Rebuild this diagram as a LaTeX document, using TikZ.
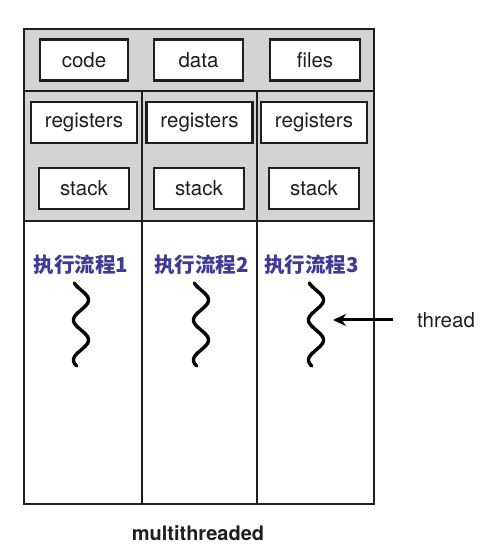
\documentclass[tikz,border=0pt]{standalone}
\usepackage{fontspec}
\setmainfont{TeX Gyre Heros}
\newfontfamily\cjk{Noto Sans CJK SC}
\usetikzlibrary{arrows.meta,positioning}

\definecolor{panelgray}{RGB}{211,211,211}
\definecolor{flowblue}{RGB}{62,58,150}
\definecolor{inkdark}{RGB}{30,30,30}

\begin{document}
\begin{tikzpicture}[
    x=1pt, y=1pt,
    partbox/.style={
        rectangle,
        draw=inkdark,
        line width=2.6pt,
        fill=white,
        minimum width=#1,
        minimum height=41pt,
        inner sep=0pt,
        font=\fontsize{20.5}{24}\selectfont,
        text=inkdark,
    },
    partbox/.default=90pt,
    flowlabel/.style={
        font=\cjk\bfseries\fontsize{20.5}{24}\selectfont,
        text=flowblue,
        inner sep=0pt,
    },
    frameline/.style={
        draw=inkdark,
        line width=2.3pt,
    },
    squiggle/.style={
        draw=black,
        line width=3.4pt,
        line cap=round,
    },
    pointer/.style={
        -{Stealth[length=13pt, width=12pt]},
        line width=3pt,
        draw=black,
    },
]
\useasboundingbox (0,0) rectangle (482,548);

% === Process frame ===
\fill[panelgray] (24,327) rectangle (374,519);
\draw[frameline] (24,44) rectangle (374,519);
\draw[frameline] (24,457) -- (374,457);
\draw[frameline] (24,327) -- (374,327);
\draw[frameline] (142,457) -- (142,44);
\draw[frameline] (257,457) -- (257,44);

% === Shared by all threads ===
\node[partbox=88pt] (code) at (84,488) {code};
\node[partbox=89pt] (data) at (198.5,488) {data};
\node[partbox=90pt] (files) at (315,488) {files};

% === Per-thread registers ===
\node[partbox=106pt] (regs1) at (84,425.5) {registers};
\node[partbox=106pt] (regs2) at (199.5,425.5) {registers};
\node[partbox=106pt] (regs3) at (314,425.5) {registers};

% === Per-thread stacks ===
\node[partbox] (stack1) at (84,359.5) {stack};
\node[partbox] (stack2) at (199,359.5) {stack};
\node[partbox] (stack3) at (314,359.5) {stack};

% === Execution flows ===
\node[flowlabel] (flow1) at (81,283) {执行流程1};
\node[flowlabel] (flow2) at (201.5,283) {执行流程2};
\node[flowlabel] (flow3) at (311.5,283) {执行流程3};

\draw[squiggle] plot[domain=283:366, samples=80, smooth]
    ({81 + 7.5*sin(9*(\x-290))}, {548-\x});
\draw[squiggle] plot[domain=283:366, samples=80, smooth]
    ({201 + 7.5*sin(9*(\x-290))}, {548-\x});
\draw[squiggle] plot[domain=283:366, samples=80, smooth]
    ({316 + 7.5*sin(9*(\x-290))}, {548-\x});

% === Thread pointer ===
\coordinate (tip3) at (333,228);
\node[font=\fontsize{20.5}{24}\selectfont, text=inkdark, inner sep=0pt] (thread) at (446,228) {thread};
\draw[pointer, shorten <=24pt] (thread.west) -- (tip3);

% === Caption ===
\node[font=\bfseries\fontsize{20}{24}\selectfont, text=inkdark] (caption) at (198,15) {multithreaded};

\end{tikzpicture}
\end{document}
